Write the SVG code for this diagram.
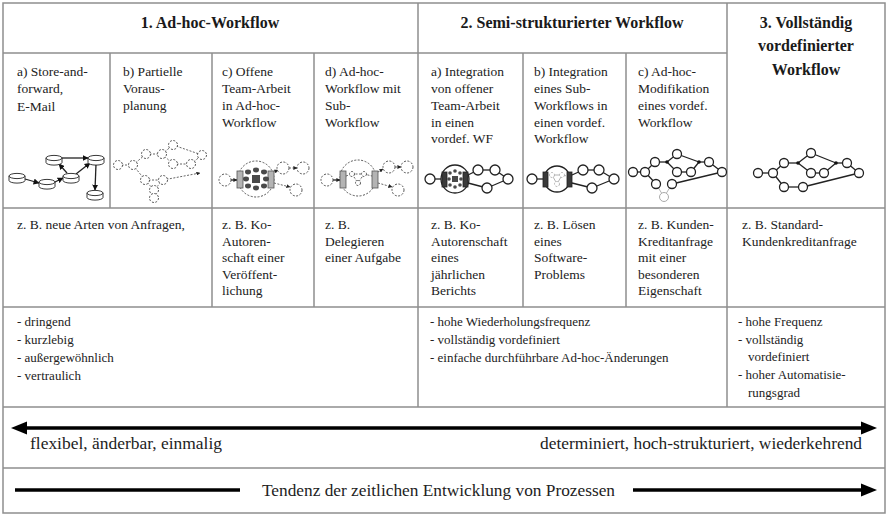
<svg xmlns="http://www.w3.org/2000/svg" width="888" height="516" viewBox="0 0 888 516">
  <style>
    .grid { stroke: #8e8e8e; stroke-width: 1.5; fill: none; }
    .hd { font-weight: bold; font-size: 16px; fill: #1a1a1a; }
    .tx { font-size: 13.5px; fill: #222; }
    .tl { font-size: 13px; fill: #222; }
    .big { font-size: 17px; fill: #222; }
    .dn { fill: #fff; stroke: #444; stroke-width: 0.9; stroke-dasharray: 2 1.5; }
    .dl { stroke: #555; stroke-width: 0.9; stroke-dasharray: 2 1.5; fill: none; }
    .sn { fill: #fff; stroke: #222; stroke-width: 1.3; }
    .sl { stroke: #222; stroke-width: 1.3; fill: none; }
    .gn { fill: #fff; stroke: #aaa; stroke-width: 0.9; stroke-dasharray: 2 1.5; }
    .gl { stroke: #aaa; stroke-width: 0.9; fill: none; }
    .bar { fill: #b4b4b4; stroke: #555; stroke-width: 0.8; }
    .dbar { fill: #3a3a3a; stroke: #222; stroke-width: 0.8; }
    .blob { fill: #4a4a4a; }
    .thick { stroke: #000; stroke-width: 3.5; fill: none; }
  </style>
  <defs>
    <marker id="ah" viewBox="0 0 10 10" refX="9" refY="5" markerWidth="6" markerHeight="6" markerUnits="userSpaceOnUse" orient="auto">
      <path d="M0,0 L10,5 L0,10 z" fill="#111"/>
    </marker>
    <marker id="ahs" viewBox="0 0 10 10" refX="9" refY="5" markerWidth="4" markerHeight="4" markerUnits="userSpaceOnUse" orient="auto">
      <path d="M0,0 L10,5 L0,10 z" fill="#222"/>
    </marker>
    <g id="cyl">
      <path d="M-8,-2 v4.5 a8,2.6 0 0 0 16,0 v-4.5" fill="#fff" stroke="#222" stroke-width="0.9"/>
      <ellipse cx="0" cy="-2" rx="8" ry="2.6" fill="#fff" stroke="#222" stroke-width="0.9"/>
    </g>
  </defs>

  <!-- table grid -->
  <g id="grid">
    <rect class="grid" x="3" y="3" width="882" height="510" stroke-width="2"/>
    <line class="grid" x1="3" y1="53" x2="727" y2="53"/>
    <line class="grid" x1="3" y1="208" x2="885" y2="208"/>
    <line class="grid" x1="3" y1="307" x2="885" y2="307"/>
    <line class="grid" x1="3" y1="407" x2="885" y2="407"/>
    <line class="grid" x1="3" y1="468" x2="885" y2="468"/>
    <line class="grid" x1="418" y1="3" x2="418" y2="407"/>
    <line class="grid" x1="727" y1="3" x2="727" y2="407"/>
    <line class="grid" x1="110" y1="53" x2="110" y2="208"/>
    <line class="grid" x1="212" y1="53" x2="212" y2="307"/>
    <line class="grid" x1="314" y1="53" x2="314" y2="307"/>
    <line class="grid" x1="523" y1="53" x2="523" y2="307"/>
    <line class="grid" x1="626" y1="53" x2="626" y2="307"/>
  </g>

  <g font-family="'Liberation Serif', 'Times New Roman', Tinos, 'DejaVu Serif', serif">
  <!-- column headings -->
  <g id="headings">
    <text class="hd" x="210" y="28" text-anchor="middle">1. Ad-hoc-Workflow</text>
    <text class="hd" x="572" y="28" text-anchor="middle">2. Semi-strukturierter Workflow</text>
    <text class="hd" x="806" y="28" text-anchor="middle">3. Vollständig</text>
    <text class="hd" x="806" y="51" text-anchor="middle">vordefinierter</text>
    <text class="hd" x="806" y="75" text-anchor="middle">Workflow</text>
  </g>

  <!-- workflow type descriptions -->
  <g id="types">
    <text class="tx" x="17" y="76">a) Store-and-</text>
    <text class="tx" x="17" y="93">forward,</text>
    <text class="tx" x="17" y="111">E-Mail</text>

    <text class="tx" x="123" y="76">b) Partielle</text>
    <text class="tx" x="123" y="93">Voraus-</text>
    <text class="tx" x="123" y="110">planung</text>

    <text class="tx" x="222" y="76">c) Offene</text>
    <text class="tx" x="222" y="93">Team-Arbeit</text>
    <text class="tx" x="222" y="110">in Ad-hoc-</text>
    <text class="tx" x="222" y="127">Workflow</text>

    <text class="tx" x="325" y="76">d) Ad-hoc-</text>
    <text class="tx" x="325" y="93">Workflow mit</text>
    <text class="tx" x="325" y="110">Sub-</text>
    <text class="tx" x="325" y="127">Workflow</text>

    <text class="tx" x="431" y="76">a) Integration</text>
    <text class="tx" x="431" y="93">von offener</text>
    <text class="tx" x="431" y="110">Team-Arbeit</text>
    <text class="tx" x="431" y="127">in einen</text>
    <text class="tx" x="431" y="143">vordef. WF</text>

    <text class="tx" x="534" y="76">b) Integration</text>
    <text class="tx" x="534" y="93">eines Sub-</text>
    <text class="tx" x="534" y="110">Workflows in</text>
    <text class="tx" x="534" y="127">einen vordef.</text>
    <text class="tx" x="534" y="143">Workflow</text>

    <text class="tx" x="638" y="76">c) Ad-hoc-</text>
    <text class="tx" x="638" y="93">Modifikation</text>
    <text class="tx" x="638" y="110">eines vordef.</text>
    <text class="tx" x="638" y="127">Workflow</text>
  </g>

  <!-- examples -->
  <g id="examples">
    <text class="tx" x="17" y="229">z. B. neue Arten von Anfragen,</text>

    <text class="tx" x="222" y="229">z. B. Ko-</text>
    <text class="tx" x="222" y="246">Autoren-</text>
    <text class="tx" x="222" y="262">schaft einer</text>
    <text class="tx" x="222" y="279">Veröffent-</text>
    <text class="tx" x="222" y="295">lichung</text>

    <text class="tx" x="325" y="229">z. B.</text>
    <text class="tx" x="325" y="246">Delegieren</text>
    <text class="tx" x="325" y="262">einer Aufgabe</text>

    <text class="tx" x="431" y="229">z. B. Ko-</text>
    <text class="tx" x="431" y="246">Autorenschaft</text>
    <text class="tx" x="431" y="262">eines</text>
    <text class="tx" x="431" y="279">jährlichen</text>
    <text class="tx" x="431" y="295">Berichts</text>

    <text class="tx" x="534" y="229">z. B. Lösen</text>
    <text class="tx" x="534" y="246">eines</text>
    <text class="tx" x="534" y="262">Software-</text>
    <text class="tx" x="534" y="279">Problems</text>

    <text class="tx" x="638" y="229">z. B. Kunden-</text>
    <text class="tx" x="638" y="246">Kreditanfrage</text>
    <text class="tx" x="638" y="262">mit einer</text>
    <text class="tx" x="638" y="279">besonderen</text>
    <text class="tx" x="638" y="295">Eigenschaft</text>

    <text class="tx" x="742" y="229">z. B. Standard-</text>
    <text class="tx" x="742" y="246">Kundenkreditanfrage</text>
  </g>

  <!-- characteristics -->
  <g id="traits">
    <text class="tl" x="17" y="326">- dringend</text>
    <text class="tl" x="17" y="344">- kurzlebig</text>
    <text class="tl" x="17" y="362">- außergewöhnlich</text>
    <text class="tl" x="17" y="380">- vertraulich</text>

    <text class="tl" x="430" y="326">- hohe Wiederholungsfrequenz</text>
    <text class="tl" x="430" y="344">- vollständig vordefiniert</text>
    <text class="tl" x="430" y="362">- einfache durchführbare Ad-hoc-Änderungen</text>

    <text class="tl" x="738" y="326">- hohe Frequenz</text>
    <text class="tl" x="738" y="344">- vollständig</text>
    <text class="tl" x="748" y="361">vordefiniert</text>
    <text class="tl" x="738" y="379">- hoher Automatisie-</text>
    <text class="tl" x="748" y="397">rungsgrad</text>
  </g>
  </g>

  <!-- a) store-and-forward: mailboxes with messages -->
  <g id="diag-store-forward">
    <g class="sl" stroke-width="1.2" marker-end="url(#ah)">
      <line x1="25" y1="179" x2="39" y2="183"/>
      <line x1="55" y1="182" x2="63" y2="178"/>
      <line x1="67" y1="173" x2="59" y2="164"/>
      <line x1="62" y1="158" x2="88" y2="158"/>
      <line x1="76" y1="174" x2="90" y2="163"/>
      <line x1="96" y1="164" x2="95" y2="190"/>
    </g>
    <use href="#cyl" x="17" y="178"/>
    <use href="#cyl" x="47" y="184"/>
    <use href="#cyl" x="71" y="178"/>
    <use href="#cyl" x="54" y="160"/>
    <use href="#cyl" x="96" y="160"/>
    <use href="#cyl" x="95" y="195"/>
  </g>

  <!-- b) partial pre-planning -->
  <g id="diag-partial">
    <g class="dl">
      <line x1="118" y1="165" x2="133" y2="165"/>
      <line x1="133" y1="165" x2="146" y2="154"/>
      <line x1="146" y1="154" x2="162" y2="154"/>
      <line x1="162" y1="154" x2="173" y2="145"/>
      <line x1="173" y1="145" x2="202" y2="155"/>
      <line x1="162" y1="154" x2="173" y2="164"/>
      <line x1="173" y1="164" x2="191" y2="164"/>
      <line x1="191" y1="164" x2="202" y2="155"/>
      <line x1="133" y1="165" x2="145" y2="180"/>
      <line x1="145" y1="180" x2="163" y2="180"/>
      <line x1="145" y1="180" x2="154" y2="190"/>
      <line x1="163" y1="180" x2="154" y2="190"/>
      <line x1="154" y1="190" x2="154" y2="198"/>
      <line x1="163" y1="180" x2="200" y2="173" marker-end="url(#ahs)"/>
    </g>
    <g class="dn">
      <circle cx="118" cy="165" r="4.5"/>
      <circle cx="133" cy="165" r="4.5"/>
      <circle cx="146" cy="154" r="4.5"/>
      <circle cx="162" cy="154" r="4.5"/>
      <circle cx="173" cy="145" r="4.5"/>
      <circle cx="202" cy="155" r="4.5"/>
      <circle cx="173" cy="164" r="4.5"/>
      <circle cx="191" cy="164" r="4.5"/>
      <circle cx="145" cy="180" r="4.5"/>
      <circle cx="163" cy="180" r="4.5"/>
      <circle cx="154" cy="190" r="4.5"/>
      <circle cx="154" cy="198" r="4.5"/>
    </g>
  </g>

  <!-- c) open team work inside an ad-hoc workflow -->
  <g id="diag-team-adhoc">
    <circle class="dn" cx="256" cy="179" r="18"/>
    <line class="sl" x1="231" y1="180" x2="237" y2="180" stroke-width="1" marker-end="url(#ahs)"/>
    <circle class="dn" cx="225" cy="180" r="6"/>
    <rect class="bar" x="237" y="171" width="6" height="17"/>
    <rect class="bar" x="268" y="171" width="6" height="17"/>
    <g class="blob">
      <rect x="252" y="175" width="8" height="8"/>
      <ellipse cx="248" cy="172" rx="3" ry="2.4"/>
      <ellipse cx="256" cy="170" rx="3" ry="2.4"/>
      <ellipse cx="264" cy="172" rx="3" ry="2.4"/>
      <ellipse cx="246" cy="179" rx="3" ry="2.4"/>
      <ellipse cx="266" cy="179" rx="3" ry="2.4"/>
      <ellipse cx="248" cy="186" rx="3" ry="2.4"/>
      <ellipse cx="256" cy="188" rx="3" ry="2.4"/>
      <ellipse cx="264" cy="186" rx="3" ry="2.4"/>
    </g>
    <g class="dl" marker-end="url(#ahs)">
      <line x1="274" y1="172" x2="278" y2="170"/>
      <line x1="289" y1="168" x2="297" y2="168"/>
      <line x1="274" y1="183" x2="290" y2="187"/>
    </g>
    <circle class="dn" cx="283" cy="168" r="6"/>
    <circle class="dn" cx="303" cy="168" r="6"/>
    <circle class="dn" cx="296" cy="190" r="6"/>
  </g>

  <!-- d) ad-hoc workflow with sub-workflow -->
  <g id="diag-adhoc-sub">
    <circle class="dn" cx="358" cy="178" r="18"/>
    <line class="sl" x1="333" y1="180" x2="340" y2="180" stroke-width="1" marker-end="url(#ahs)"/>
    <circle class="dn" cx="327" cy="180" r="6"/>
    <rect class="bar" x="340" y="171" width="6" height="17"/>
    <rect class="bar" x="372" y="171" width="6" height="17"/>
    <g class="dl">
      <line x1="346" y1="176" x2="352" y2="174"/>
      <line x1="352" y1="174" x2="364" y2="174"/>
      <line x1="352" y1="174" x2="358" y2="183"/>
      <line x1="364" y1="174" x2="358" y2="183"/>
      <line x1="364" y1="174" x2="372" y2="176"/>
    </g>
    <circle class="dn" cx="352" cy="174" r="2.5"/>
    <circle class="dn" cx="364" cy="174" r="2.5"/>
    <circle class="dn" cx="358" cy="183" r="2.5"/>
    <g class="dl" marker-end="url(#ahs)">
      <line x1="378" y1="172" x2="383" y2="169"/>
      <line x1="395" y1="167" x2="401" y2="167"/>
      <line x1="378" y1="183" x2="392" y2="187"/>
    </g>
    <circle class="dn" cx="389" cy="167" r="6"/>
    <circle class="dn" cx="407" cy="167" r="6"/>
    <circle class="dn" cx="398" cy="190" r="6"/>
  </g>

  <!-- 2a) open team work embedded in a predefined workflow -->
  <g id="diag-team-predef">
    <g class="sl">
      <line x1="435" y1="179" x2="442" y2="179"/>
      <line x1="468" y1="175" x2="478" y2="170"/>
      <line x1="478" y1="170" x2="495" y2="170"/>
      <line x1="495" y1="170" x2="508" y2="179"/>
      <line x1="468" y1="183" x2="487" y2="188"/>
      <line x1="487" y1="188" x2="508" y2="179"/>
    </g>
    <circle class="sn" cx="430" cy="179" r="5"/>
    <circle class="sn" cx="455" cy="179" r="14"/>
    <rect class="dbar" x="442" y="172" width="5" height="15"/>
    <rect class="dbar" x="463" y="172" width="5" height="15"/>
    <g class="blob">
      <rect x="452" y="176" width="6" height="6"/>
      <circle cx="450" cy="173" r="1.8"/>
      <circle cx="455" cy="171" r="1.8"/>
      <circle cx="460" cy="173" r="1.8"/>
      <circle cx="449" cy="179" r="1.8"/>
      <circle cx="461" cy="179" r="1.8"/>
      <circle cx="450" cy="185" r="1.8"/>
      <circle cx="455" cy="187" r="1.8"/>
      <circle cx="460" cy="185" r="1.8"/>
    </g>
    <circle class="sn" cx="478" cy="170" r="5"/>
    <circle class="sn" cx="495" cy="170" r="5"/>
    <circle class="sn" cx="508" cy="179" r="5"/>
    <circle class="sn" cx="487" cy="188" r="5"/>
  </g>

  <!-- 2b) sub-workflow embedded in a predefined workflow -->
  <g id="diag-sub-predef">
    <g class="sl">
      <line x1="537" y1="179" x2="543" y2="179"/>
      <line x1="572" y1="175" x2="583" y2="170"/>
      <line x1="583" y1="170" x2="599" y2="170"/>
      <line x1="599" y1="170" x2="614" y2="179"/>
      <line x1="572" y1="183" x2="592" y2="188"/>
      <line x1="592" y1="188" x2="614" y2="179"/>
    </g>
    <circle class="sn" cx="532" cy="179" r="5"/>
    <circle class="sn" cx="557" cy="179" r="13"/>
    <rect class="dbar" x="543" y="172" width="5" height="15"/>
    <rect class="dbar" x="567" y="172" width="5" height="15"/>
    <g class="gl">
      <line x1="548" y1="176" x2="552" y2="175"/>
      <line x1="552" y1="175" x2="562" y2="175"/>
      <line x1="552" y1="175" x2="557" y2="184"/>
      <line x1="562" y1="175" x2="557" y2="184"/>
      <line x1="562" y1="175" x2="567" y2="176"/>
    </g>
    <circle class="gn" cx="552" cy="175" r="2.5"/>
    <circle class="gn" cx="562" cy="175" r="2.5"/>
    <circle class="gn" cx="557" cy="184" r="2.5"/>
    <circle class="sn" cx="583" cy="170" r="5"/>
    <circle class="sn" cx="599" cy="170" r="5"/>
    <circle class="sn" cx="614" cy="179" r="5"/>
    <circle class="sn" cx="592" cy="188" r="5"/>
  </g>

  <!-- 2c) ad-hoc modification of a predefined workflow -->
  <g id="diag-adhoc-mod">
    <g class="sl" stroke-width="1.1">
      <line x1="633" y1="172" x2="645" y2="172"/>
      <line x1="645" y1="172" x2="655" y2="162"/>
      <line x1="655" y1="162" x2="667" y2="162"/>
      <line x1="667" y1="162" x2="677" y2="154"/>
      <line x1="667" y1="162" x2="677" y2="172"/>
      <line x1="677" y1="172" x2="691" y2="172"/>
      <line x1="677" y1="154" x2="699" y2="162"/>
      <line x1="691" y1="172" x2="699" y2="162"/>
      <line x1="699" y1="162" x2="709" y2="162"/>
      <line x1="709" y1="162" x2="722" y2="172"/>
      <line x1="645" y1="172" x2="656" y2="184"/>
      <line x1="672" y1="184" x2="722" y2="172"/>
    </g>
    <g class="gl">
      <line x1="656" y1="184" x2="664" y2="197"/>
      <line x1="672" y1="184" x2="664" y2="197"/>
    </g>
    <circle cx="667" cy="162" r="1.8" fill="#111"/>
    <circle cx="699" cy="162" r="1.8" fill="#111"/>
    <g class="sn" stroke-width="1.1">
      <circle cx="633" cy="172" r="4.5"/>
      <circle cx="645" cy="172" r="4.5"/>
      <circle cx="655" cy="162" r="4.5"/>
      <circle cx="677" cy="154" r="4.5"/>
      <circle cx="709" cy="162" r="4.5"/>
      <circle cx="722" cy="172" r="4.5"/>
      <circle cx="677" cy="172" r="4.5"/>
      <circle cx="691" cy="172" r="4.5"/>
      <circle cx="656" cy="184" r="4.5"/>
      <circle cx="672" cy="184" r="4.5"/>
    </g>
    <circle cx="664" cy="197" r="4.5" fill="#fff" stroke="#aaa" stroke-width="1"/>
  </g>

  <!-- 3) fully predefined workflow -->
  <g id="diag-predef">
    <g class="sl" stroke-width="1.1">
      <line x1="758" y1="173" x2="773" y2="173"/>
      <line x1="773" y1="173" x2="784" y2="163"/>
      <line x1="784" y1="163" x2="798" y2="163"/>
      <line x1="798" y1="163" x2="811" y2="153"/>
      <line x1="798" y1="163" x2="811" y2="173"/>
      <line x1="811" y1="173" x2="824" y2="173"/>
      <line x1="811" y1="153" x2="836" y2="163"/>
      <line x1="824" y1="173" x2="836" y2="163"/>
      <line x1="836" y1="163" x2="847" y2="163"/>
      <line x1="847" y1="163" x2="859" y2="173"/>
      <line x1="773" y1="173" x2="784" y2="187"/>
      <line x1="784" y1="187" x2="803" y2="187"/>
      <line x1="803" y1="187" x2="859" y2="173"/>
    </g>
    <circle cx="798" cy="163" r="1.8" fill="#111"/>
    <circle cx="836" cy="163" r="1.8" fill="#111"/>
    <g class="sn" stroke-width="1.1">
      <circle cx="758" cy="173" r="4.5"/>
      <circle cx="773" cy="173" r="4.5"/>
      <circle cx="784" cy="163" r="4.5"/>
      <circle cx="811" cy="153" r="4.5"/>
      <circle cx="847" cy="163" r="4.5"/>
      <circle cx="859" cy="173" r="4.5"/>
      <circle cx="811" cy="173" r="4.5"/>
      <circle cx="824" cy="173" r="4.5"/>
      <circle cx="784" cy="187" r="4.5"/>
      <circle cx="803" cy="187" r="4.5"/>
    </g>
  </g>

  <!-- spectrum arrow -->
  <g id="spectrum" font-family="'Liberation Serif', 'Times New Roman', Tinos, 'DejaVu Serif', serif">
    <line class="thick" x1="24" y1="428" x2="864" y2="428"/>
    <path d="M11,428 L27,421.5 L27,434.5 z" fill="#000"/>
    <path d="M877,428 L861,421.5 L861,434.5 z" fill="#000"/>
    <text class="big" x="30" y="449" textLength="192" lengthAdjust="spacingAndGlyphs">flexibel, änderbar, einmalig</text>
    <text class="big" x="862" y="449" text-anchor="end" textLength="322" lengthAdjust="spacingAndGlyphs">determiniert, hoch-strukturiert, wiederkehrend</text>
  </g>

  <!-- time trend arrow -->
  <g id="trend" font-family="'Liberation Serif', 'Times New Roman', Tinos, 'DejaVu Serif', serif">
    <line class="thick" x1="15" y1="490" x2="240" y2="490"/>
    <line class="thick" x1="633" y1="490" x2="864" y2="490"/>
    <path d="M877,490 L861,483.5 L861,496.5 z" fill="#000"/>
    <text class="big" x="262" y="496" textLength="353" lengthAdjust="spacingAndGlyphs">Tendenz der zeitlichen Entwicklung von Prozessen</text>
  </g>
</svg>
